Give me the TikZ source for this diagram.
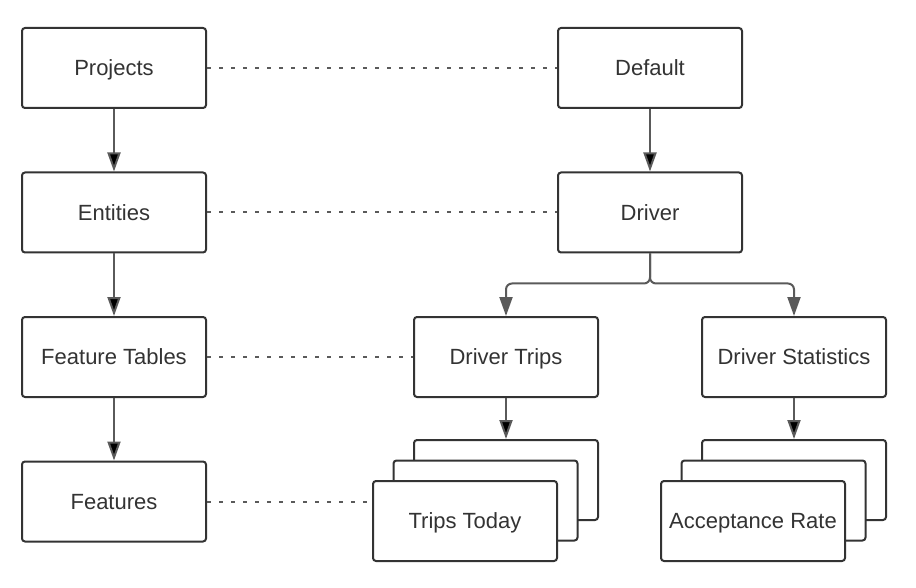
\documentclass[tikz,border=0pt]{standalone}
\usepackage{fontspec}
\setmainfont{Liberation Sans}
\usepackage{tikz}
\usetikzlibrary{positioning,arrows.meta}
\definecolor{boxline}{HTML}{333333}
\definecolor{linkline}{HTML}{5A5A5A}
\tikzset{main node/.style={rectangle,rounded corners=3pt,draw=boxline,line width=2pt,fill=white,minimum width=184pt,minimum height=80pt,inner sep=0pt,text height=15.75pt,text depth=0pt,text=boxline,font=\fontsize{22}{26}\selectfont},
link/.style={draw=linkline,line width=2pt,-{Triangle[length=19pt,width=13pt]}},
dash link/.style={draw=linkline,line width=2pt,dash pattern=on 4pt off 8pt},
}

\begin{document}
\begin{tikzpicture}[x=1pt,y=1pt]
\useasboundingbox (0,0) rectangle (916,-588);

%% left column
\node[main node] (projects) at (114,-68) {Projects};
\node[main node] (entities) [below = 62.5pt of projects] {Entities};
\node[main node] (tables) [below = 62.5pt of entities] {Feature Tables};
\node[main node] (features) [below = 62.5pt of tables] {Features};

%% right side
\node[main node] (default) [right = 350pt of projects] {Default};
\node[main node] (driver) [right = 350pt of entities] {Driver};
\node[main node] (trips) [right = 206pt of tables] {Driver Trips};
\node[main node] (stats) [right = 102pt of trips] {Driver Statistics};

%% stacked feature boxes
\node[main node] (tripsback) [below = 41pt of trips] {};
\node[main node,anchor=north west] (tripsmid) at ([shift={(-20.5,-20.5)}]tripsback.north west) {};
\node[main node,anchor=north west] (tripsfront) at ([shift={(-20.5,-20.5)}]tripsmid.north west) {Trips Today};
\node[main node] (statsback) [below = 41pt of stats] {};
\node[main node,anchor=north west] (statsmid) at ([shift={(-20.5,-20.5)}]statsback.north west) {};
\node[main node,anchor=north west] (statsfront) at ([shift={(-20.5,-20.5)}]statsmid.north west) {Acceptance Rate};

\path[link]
(projects) edge (entities)
(entities) edge (tables)
(tables) edge (features)
(default) edge (driver)
(trips) edge (tripsback)
(stats) edge (statsback)
;
\draw[link,rounded corners=6pt] (driver.south) -- ++(0,-30) -| (trips.north);
\draw[link,rounded corners=6pt] (driver.south) -- ++(0,-30) -| (stats.north);

\path[dash link]
(projects) edge (default)
(entities) edge (driver)
(tables) edge (trips)
(features.east) edge (features.east -| tripsfront.west)
;
\end{tikzpicture}
\end{document}
